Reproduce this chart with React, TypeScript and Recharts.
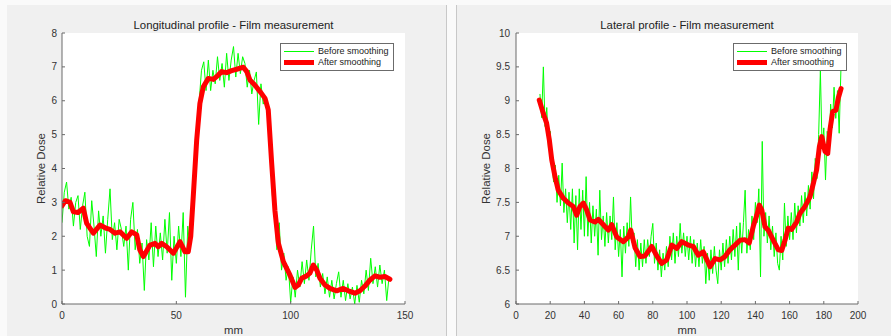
import React from 'react'
import { CartesianGrid, Legend, Line, LineChart, XAxis, YAxis } from 'recharts'

const FONT = '"Liberation Sans", Arial, Helvetica, sans-serif'
const RAW_COLOR = '#00ff00'
const SMOOTH_COLOR = '#ff0000'
const TEXT_COLOR = '#333333'
const BOX_COLOR = '#6b6b6b'

// Longitudinal profile: raw film samples, 1 mm apart, starting at 0 mm
const longRawStart = 0
const longRawDose = [
  2.4, 3.3, 3.6, 2.8, 3.15, 2.3, 3.0, 3.2, 2.2, 2.9, 3.3, 2.0, 1.7, 3.05, 2.3, 1.4, 2.75, 2.0, 2.6, 1.5,
  2.5, 3.4, 1.9, 2.4, 1.6, 2.5, 2.2, 1.7, 2.3, 1.0, 2.5, 3.0, 1.6, 2.2, 1.2, 1.8, 0.4, 1.9, 1.3, 2.4,
  1.1, 2.3, 1.4, 2.1, 1.3, 2.5, 1.5, 2.7, 0.7, 2.0, 1.2, 2.3, 1.4, 2.7, 0.2, 2.3, 1.6, 2.6, 3.6, 5.2,
  6.0, 6.9, 7.15, 6.3, 7.2, 6.3, 6.9, 6.5, 7.3, 6.6, 7.1, 6.4, 7.4, 6.6, 7.2, 7.6, 6.7, 7.4, 6.8, 7.3,
  7.1, 6.4, 6.9, 6.2, 6.6, 6.85, 5.3, 6.5, 5.9, 6.1, 5.5, 4.8, 3.2, 2.6, 1.6, 2.4, 1.0, 1.5, 0.7, 1.1,
  0.05, 0.8, 0.2, 1.0, 0.5, 1.25, 0.6, 1.3, 0.7, 1.6, 2.3, 0.8, 1.2, 0.5, 0.9, 0.3, 0.8, 0.2, 0.7, 0.15,
  0.6, 0.95, 0.2, 0.7, 0.1, 0.6, 0.15, 0.5, 0.0, 0.55, 0.05, 0.7, 0.3, 1.0, 0.4, 1.35, 0.6, 1.1, 0.5, 1.15,
  0.6, 1.0, 0.1, 0.8,
]

// Longitudinal profile: smoothed curve
const longSmoothMm = [
  0, 1.5, 3.5, 5, 7, 9.3, 10.8, 13.7, 16.6, 19.5, 21, 23.2, 25.4, 28.3, 30.5, 32.7, 34, 35.6, 38.5, 40.7,
  42.1, 43.6, 45.8, 48.7, 51.6, 53.8, 55.2, 56.3, 57.4, 58.9, 60.3, 61.8, 64, 66.2, 67.6, 69.8, 72, 74.2, 76.4, 79.3,
  80.8, 82.2, 84.4, 86.6, 88.8, 90.2, 91.7, 93.1, 94.6, 96.8, 99.7, 101.9, 103.3, 104.8, 107, 108.4, 109.9, 111.4, 112.8, 115,
  117.2, 120.1, 123, 125.2, 128.1, 130.3, 132.5, 134.7, 136.9, 139, 141.2, 143.4,
]
const longSmoothDose = [
  2.9, 3.05, 3.0, 2.72, 2.7, 2.83, 2.38, 2.09, 2.33, 2.23, 2.2, 2.09, 2.13, 1.94, 2.13, 2.04, 1.6, 1.4, 1.74, 1.79,
  1.69, 1.79, 1.69, 1.5, 1.84, 1.54, 1.54, 2.0, 3.17, 4.84, 5.92, 6.41, 6.66, 6.63, 6.71, 6.86, 6.83, 6.89, 6.93, 6.99,
  6.86, 6.61, 6.46, 6.27, 6.07, 5.73, 4.15, 2.77, 1.8, 1.25, 0.85, 0.49, 0.56, 0.76, 0.83, 0.91, 1.15, 1.0, 0.76, 0.56,
  0.46, 0.39, 0.46, 0.39, 0.32, 0.39, 0.53, 0.71, 0.83, 0.79, 0.81, 0.73,
]

// Lateral profile: raw film samples, 1 mm apart, starting at 14 mm
const latRawStart = 14
const latRawDose = [
  9.1, 8.75, 9.5, 8.62, 8.9, 8.3, 8.55, 8.08, 7.8, 8.05, 7.5, 7.9, 7.45, 8.08, 7.35, 7.7, 7.2, 7.65, 7.1, 7.7,
  6.9, 7.6, 6.8, 7.7, 7.1, 7.68, 7.0, 7.88, 7.0, 7.5, 6.9, 7.45, 7.0, 7.4, 6.72, 7.68, 6.95, 7.3, 6.85, 7.35,
  6.9, 7.3, 6.95, 7.58, 6.8, 7.2, 6.7, 7.1, 6.4, 7.15, 6.75, 7.2, 6.85, 7.58, 6.9, 7.05, 6.55, 6.95, 6.5, 6.9,
  6.55, 6.95, 6.6, 6.95, 6.7, 7.0, 7.19, 6.6, 6.9, 6.5, 6.8, 6.4, 6.75, 6.5, 6.85, 6.55, 7.0, 6.65, 7.05, 6.6,
  7.0, 6.7, 7.19, 6.75, 7.05, 6.7, 7.0, 6.65, 7.0, 6.6, 6.95, 6.55, 6.9, 6.55, 6.95, 6.6, 6.85, 6.3, 6.75, 6.35,
  6.8, 6.45, 6.85, 6.5, 6.3, 6.8, 6.5, 6.9, 6.55, 6.95, 6.6, 7.0, 6.65, 7.1, 6.7, 7.15, 6.5, 7.2, 6.75, 7.2,
  7.68, 6.75, 7.1, 6.8, 7.3, 6.95, 7.5, 7.2, 7.7, 6.4, 8.4, 7.0, 7.35, 6.9, 7.3, 6.8, 7.15, 6.7, 7.05, 6.6,
  6.5, 7.0, 6.65, 7.49, 6.85, 7.3, 6.95, 7.35, 6.95, 7.49, 7.05, 7.45, 7.15, 7.6, 7.2, 7.65, 7.3, 7.75, 7.4, 7.95,
  7.55, 8.15, 7.85, 8.5, 9.45, 8.3, 8.6, 7.83, 8.55, 8.2, 8.95, 8.6, 9.2, 8.74, 9.15, 8.52, 9.45,
]

// Lateral profile: smoothed curve
const latSmoothMm = [
  13.6, 16, 17.9, 19.5, 20.9, 22.8, 24.7, 27.7, 30.6, 33.5, 35.5, 37.4, 39.4, 41.3, 43.3, 46.2, 48.1, 51.1, 54, 56,
  58.9, 62.8, 65.7, 67.1, 69.6, 72.5, 75.4, 79.4, 82.3, 85.2, 88.1, 91.1, 94, 96.9, 100.8, 103.7, 106.6, 109.5, 113.5, 116.4,
  119.3, 122.2, 125.1, 128.1, 131, 133.9, 136.4, 138.8, 140.8, 142.3, 143.7, 145.6, 147.5, 150.5, 153.4, 155.4, 157.3, 159.2, 161.2, 164.1,
  166.1, 169, 171.9, 173.9, 175.8, 177.4, 178.8, 180.7, 182.3, 183.6, 185.2, 187.1, 188.5, 190.1,
]
const latSmoothDose = [
  9.01, 8.81, 8.67, 8.42, 8.13, 7.88, 7.68, 7.56, 7.49, 7.44, 7.31, 7.44, 7.49, 7.39, 7.24, 7.21, 7.25, 7.17, 7.09, 7.17,
  6.99, 6.92, 6.99, 7.09, 6.83, 6.7, 6.71, 6.85, 6.71, 6.6, 6.65, 6.87, 6.82, 6.92, 6.87, 6.85, 6.72, 6.77, 6.55, 6.67,
  6.65, 6.7, 6.8, 6.87, 6.94, 6.95, 6.9, 7.15, 7.31, 7.46, 7.39, 7.14, 7.09, 6.94, 6.8, 6.79, 6.94, 7.12, 7.1, 7.21,
  7.34, 7.44, 7.58, 7.78, 7.98, 8.32, 8.47, 8.25, 8.22, 8.57, 8.84, 8.86, 9.04, 9.18,
]

const longXTicks = [0, 50, 100, 150]
const longYTicks = [0, 1, 2, 3, 4, 5, 6, 7, 8]
const latXTicks = [0, 20, 40, 60, 80, 100, 120, 140, 160, 180, 200]
const latYTicks = [6, 6.5, 7, 7.5, 8, 8.5, 9, 9.5, 10]

const seriesNames = ['Before smoothing', 'After smoothing']

interface Pt {
  x: number
  y: number
}

const rawPoints = (start: number, dose: number[]): Pt[] => dose.map((y, i) => ({ x: start + i, y }))
const pairPoints = (mm: number[], dose: number[]): Pt[] => mm.map((x, i) => ({ x, y: dose[i] }))

const tickStyle = { fontSize: 10, fill: TEXT_COLOR, fontFamily: FONT }

const LegendBox = () => (
  <div
    style={{
      border: `1px solid ${BOX_COLOR}`,
      background: '#fff',
      padding: '2px 4px 2px 1px',
      fontFamily: FONT,
      fontSize: 9,
      lineHeight: '11px',
      color: '#222',
      whiteSpace: 'nowrap',
    }}
  >
    {seriesNames.map((name, i) => (
      <div key={name} style={{ display: 'flex', alignItems: 'center', height: 11 }}>
        <svg width={34} height={11} style={{ marginRight: 2 }}>
          <line
            x1={2}
            x2={32}
            y1={5.5}
            y2={5.5}
            stroke={i === 0 ? RAW_COLOR : SMOOTH_COLOR}
            strokeWidth={i === 0 ? 1 : 5}
          />
        </svg>
        <span>{name}</span>
      </div>
    ))}
  </div>
)

interface PanelProps {
  left: number
  width: number
  title: string
  raw: Pt[]
  smooth: Pt[]
  xDomain: [number, number]
  yDomain: [number, number]
  xTicks: number[]
  yTicks: number[]
  yAxisWidth: number
  marginRight: number
  yLabelX: number
  yTickMargin: number
  legendLeft: number
}

const Panel: React.FC<PanelProps> = (p) => {
  const height = 331
  const plotLeft = p.yAxisWidth
  const plotRight = p.width - p.marginRight

  const yLabel = (props: any) => {
    const vb = props.viewBox || { y: 28, height: 271 }
    const cy = vb.y + vb.height / 2
    return (
      <text
        x={p.yLabelX}
        y={cy}
        transform={`rotate(-90 ${p.yLabelX} ${cy})`}
        textAnchor="middle"
        dominantBaseline="central"
        fontSize={11.4}
        fill={TEXT_COLOR}
        fontFamily={FONT}
      >
        Relative Dose
      </text>
    )
  }

  const xLabel = () => (
    <text
      x={(plotLeft + plotRight) / 2}
      y={325}
      textAnchor="middle"
      dominantBaseline="central"
      fontSize={11.4}
      fill={TEXT_COLOR}
      fontFamily={FONT}
    >
      mm
    </text>
  )

  return (
    <div
      style={{
        position: 'absolute',
        left: p.left,
        top: 5,
        width: p.width,
        height,
        background: '#f0f0f0',
      }}
    >
      <div
        style={{
          position: 'absolute',
          left: plotLeft,
          width: plotRight - plotLeft,
          top: 13,
          textAlign: 'center',
          fontFamily: FONT,
          fontSize: 11.4,
          lineHeight: '14px',
          color: '#222',
        }}
      >
        {p.title}
      </div>
      <LineChart
        width={p.width}
        height={height}
        margin={{ top: 28, right: p.marginRight, left: 0, bottom: 0 }}
        style={{ fontFamily: FONT }}
      >
        <CartesianGrid fill="#ffffff" horizontal={false} vertical={false} stroke="none" />
        <XAxis
          xAxisId="bottom"
          dataKey="x"
          type="number"
          domain={p.xDomain}
          ticks={p.xTicks}
          interval={0}
          height={32}
          tickSize={-3}
          tickMargin={11}
          stroke={BOX_COLOR}
          tick={tickStyle}
          allowDataOverflow
          label={xLabel}
        />
        <XAxis
          xAxisId="top"
          orientation="top"
          type="number"
          domain={p.xDomain}
          ticks={p.xTicks}
          interval={0}
          height={0}
          tickSize={-3}
          tick={false}
          stroke={BOX_COLOR}
          allowDataOverflow
        />
        <YAxis
          yAxisId="left"
          type="number"
          domain={p.yDomain}
          ticks={p.yTicks}
          interval={0}
          width={p.yAxisWidth}
          tickSize={-3}
          tickMargin={p.yTickMargin}
          stroke={BOX_COLOR}
          tick={tickStyle}
          allowDataOverflow
          label={yLabel}
        />
        <YAxis
          yAxisId="right"
          orientation="right"
          type="number"
          domain={p.yDomain}
          ticks={p.yTicks}
          interval={0}
          width={0}
          tickSize={-3}
          tick={false}
          stroke={BOX_COLOR}
          allowDataOverflow
        />
        <Legend
          layout="horizontal"
          verticalAlign="middle"
          align="center"
          wrapperStyle={{ left: p.legendLeft, top: 38, width: 'auto', height: 'auto' }}
          content={<LegendBox />}
        />
        <Line
          xAxisId="bottom"
          yAxisId="left"
          data={p.raw}
          dataKey="y"
          name={seriesNames[0]}
          type="linear"
          stroke={RAW_COLOR}
          strokeWidth={1}
          dot={false}
          isAnimationActive={false}
        />
        <Line
          xAxisId="bottom"
          yAxisId="left"
          data={p.smooth}
          dataKey="y"
          name={seriesNames[1]}
          type="linear"
          stroke={SMOOTH_COLOR}
          strokeWidth={5}
          strokeLinejoin="round"
          strokeLinecap="round"
          dot={false}
          isAnimationActive={false}
        />
      </LineChart>
    </div>
  )
}

export default function App() {
  return (
    <div
      style={{
        position: 'fixed',
        left: 0,
        top: 0,
        width: 891,
        height: 336,
        background: '#fafafa',
        overflow: 'hidden',
      }}
    >
      <Panel
        left={7}
        width={439}
        title="Longitudinal profile - Film measurement"
        raw={rawPoints(longRawStart, longRawDose)}
        smooth={pairPoints(longSmoothMm, longSmoothDose)}
        xDomain={[0, 150]}
        yDomain={[0, 8]}
        xTicks={longXTicks}
        yTicks={longYTicks}
        yAxisWidth={55}
        marginRight={41}
        yLabelX={34}
        yTickMargin={8}
        legendLeft={273}
      />
      <div style={{ position: 'absolute', left: 446, top: 5, width: 1, height: 331, background: '#c8c8c8' }} />
      <div style={{ position: 'absolute', left: 456, top: 5, width: 1, height: 331, background: '#c8c8c8' }} />
      <Panel
        left={457}
        width={434}
        title="Lateral profile - Film measurement"
        raw={rawPoints(latRawStart, latRawDose)}
        smooth={pairPoints(latSmoothMm, latSmoothDose)}
        xDomain={[0, 200]}
        yDomain={[6, 10]}
        xTicks={latXTicks}
        yTicks={latYTicks}
        yAxisWidth={59}
        marginRight={33}
        yLabelX={29}
        yTickMargin={9}
        legendLeft={276}
      />
    </div>
  )
}
